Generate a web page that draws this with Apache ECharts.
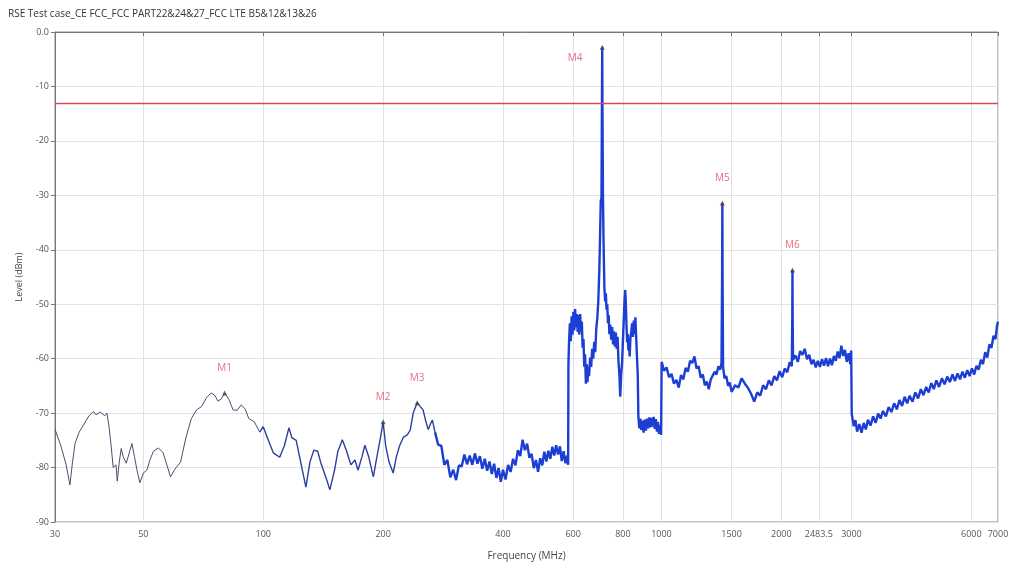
<!DOCTYPE html>
<html><head><meta charset="utf-8">
<script src="https://cdn.jsdelivr.net/npm/echarts@6/dist/echarts.min.js"></script>
<style>html,body{margin:0;padding:0;background:#fff}#c{width:1012px;height:570px}</style>
</head><body><div id="c"></div>
<script>
const titleText = 'RSE Test case_CE FCC_FCC PART22&24&27_FCC LTE B5&12&13&26';
const xTickValues = [30,50,100,200,400,600,800,1000,1500,2000,2483.5,3000,6000,7000];
const limitLevel = -13;

const freqA = [30,31,32,32.7,33.2,33.7,34.5,35.5,36.5,37.5,38,39,40,40.5,41,41.5,42,42.7,43,43.5,44,44.5,45.3,46,46.8,47.5,48.2,49,50,51,52,53,54.5,56,57,58.5,60,62,64,66,68,70,72,74,75.5,77,78.5,80,82,84,86,88,90,92,95,98];
const levelA = [-73,-75.9,-79.5,-83.2,-79,-75.5,-73.5,-72,-70.5,-69.7,-70.3,-69.8,-70.5,-70,-72.5,-76,-80,-79.5,-82.5,-79,-76.5,-78,-79.2,-77.5,-75.6,-78,-80.5,-82.8,-81,-80.5,-78.5,-77,-76.4,-77.2,-79,-81.7,-80.3,-79,-74.4,-71,-69.4,-68.8,-67.2,-66.3,-66.7,-67.8,-67.4,-66.3,-67.5,-69.4,-69.5,-68.5,-69.2,-71,-71.6,-73.5];

const freqB = [98,100,103,106,110,113,116,118,121,125,128,131,134,137,140,144,147,151,154,158,162,166,170,173,177,180,184,189,193,197,200,203,207,212,216,220,225,230,234,238,243.6,248,252,256,259.6,263,266,270];
const levelB = [-73.5,-72.5,-75,-77.3,-78.1,-76,-72.7,-74.5,-75,-80,-83.6,-79,-76.8,-77,-79.5,-82,-84.1,-80.5,-77,-74.9,-77,-79.5,-78.6,-80.5,-78,-75.9,-78,-81.7,-78,-74.5,-71.6,-76,-79,-81,-78,-76,-74.4,-74,-73.1,-70,-68.1,-68.8,-69.4,-71.5,-73,-72,-71.3,-73.5];

const freqC = [270,275,280,285,290,295,300,305,310,315,320,325,330,335,340,345,350,355,360,365,370,375,380,385,390,395,400,406,412,418,424,430,436,442,448,454,460,466,472,478,484,490,496,502,508,514,520,526,532,538,544,550,556,562,568,574,580,583,584,
586,589,592,595,598,601,604,607,610,613,616,619,622,625,628,631,634,637,640,643,646,649,652,655,658,662,666,670,674,678,682,686,690,694,698,701,704,707,709,710,711,713,716,719,722,725,728,731,734,737,740,744,748,752,756,760,764,768,772,776,780,784,788,792,796,800,804,808,811,814,817,820,823,826,829,832,836,840,844,848,852,856,860,864,868,872,875,880,885,890,896,902,908,914,920,926,932,938,944,950,956,962,968,974,980,986,992,998,
1001,1015,1030,1045,1060,1075,1090,1105,1120,1135,1150,1165,1180,1195,1210,1225,1240,1255,1270,1285,1300,1315,1330,1345,1360,1375,1390,1405,1415,1420,1422,1424,1428,1440,1455,1470,1485,1500,
1530,1560,1590,1620,1650,1680,1710,1740,1770,1800,1830,1860,1890,1920,1950,1980,2010,2040,2070,2100,2125,2131,2133,2135,2140,2170,2200,2230,2260,2290,2320,2350,2380,2410,2440,2470,2500,2530,2560,2590,2620,2650,2680,2710,2740,2770,2800,2830,2860,2890,2920,2950,2980,2995,
3005,3040,3070,3100,3140,3180,3220,3260,3300,3350,3400,3450,3500,3550,3600,3660,3720,3780,3840,3900,3960,4020,4080,4140,4200,4270,4340,4410,4480,4550,4620,4690,4760,4830,4900,4980,5060,5140,5220,5300,5380,5460,5540,5620,5700,5780,5860,5940,6020,6100,6180,6260,6340,6420,6500,6580,6660,6740,6820,6900,6960,7000];
const levelC = [-73.5,-75.8,-76.0,-79.5,-78.6,-81.8,-80.4,-82.3,-79.6,-79.8,-77.6,-79.4,-77.8,-79.5,-77.4,-79.3,-77.9,-80.2,-78.4,-80.6,-78.9,-81.2,-79.3,-81.9,-80.1,-82.6,-80.4,-82.2,-79.5,-80.8,-78.4,-79.6,-76.8,-77.9,-74.9,-76.8,-75.6,-78.2,-77.5,-80.1,-78.6,-80.8,-78.3,-79.6,-77.1,-78.9,-76.9,-78.4,-76.2,-77.8,-75.9,-77.6,-76.1,-78.8,-77.0,-79.2,-77.8,-79.5,-61,
-57,-53.5,-56.8,-52.2,-55.6,-51.4,-54.8,-50.9,-54.2,-51.8,-55.1,-52.0,-55.6,-51.8,-55.0,-53.2,-58.0,-56.4,-61.5,-59.2,-64.6,-61.0,-64.3,-61.5,-63.2,-59.8,-61.5,-58.2,-60.0,-56.9,-58.8,-54.5,-52.6,-49.5,-44,-38,-31,-30.5,-12,-2.8,-14,-30,-40,-47,-49.5,-48,-51,-50,-53.5,-52,-55.5,-53.8,-56.5,-54.2,-57.4,-55.0,-57.8,-55.2,-58.2,-56.0,-60.5,-62.8,-67.0,-63,-61,-57,-53,-49,-47.4,-50,-54,-57,-55.5,-58.5,-57,-59.6,-56,-55,-53.5,-56,-53,-55.5,-52.4,-56,-59.7,-63,-70.7,-72.8,-71.0,-73.1,-71.4,-73.6,-71.2,-73.2,-71.0,-72.8,-70.8,-72.6,-70.9,-72.5,-70.7,-72.9,-71.1,-73.4,-71.6,-73.8,-72.2,-74.0,
-60.6,-62.2,-61.6,-63.4,-62.8,-64.6,-63.9,-65.3,-63.0,-63.8,-61.7,-62.4,-60.4,-60.8,-59.6,-61.8,-61.4,-63.5,-62.9,-64.9,-64.2,-65.6,-63.8,-64.1,-62.4,-62.9,-61.4,-62.0,-60.8,-45,-31.4,-45,-61.5,-63.6,-63.2,-65.0,-64.4,-66.1,
-64.9,-65.3,-63.6,-64.6,-65.4,-66.5,-67.9,-66.2,-66.8,-64.9,-65.6,-64.0,-64.9,-63.2,-64.0,-62.3,-63.4,-61.8,-62.5,-60.6,-61.4,-52,-43.7,-52,-60.2,-59.4,-60.6,-58.6,-59.3,-58.2,-60.1,-59.3,-61.0,-60.2,-61.6,-60.4,-61.5,-60.1,-61.3,-59.9,-61.4,-60.0,-61.2,-59.5,-60.4,-58.7,-59.9,-57.6,-59.5,-58.4,-60.6,-59.0,-61.0,-58.5,
-70.2,-72.4,-71.3,-73.4,-72.0,-73.6,-71.8,-73.0,-71.2,-72.3,-70.6,-71.8,-70.1,-71.0,-69.6,-70.6,-68.9,-69.8,-68.2,-69.3,-67.6,-68.7,-67.0,-68.2,-66.8,-67.9,-66.2,-67.3,-65.6,-66.7,-65.2,-66.2,-64.5,-65.6,-64.0,-65.2,-63.6,-64.7,-63.3,-64.3,-62.9,-64.1,-62.7,-63.8,-62.4,-63.5,-62.1,-63.2,-61.8,-62.9,-61.3,-62.0,-60.2,-61.0,-58.8,-59.8,-57.4,-58.0,-55.8,-56.4,-54.0,-53.2];

const markerNames = ['M1','M2','M3','M4','M5','M6'];
const markerFreq = [80,200,243.6,710,1422,2133];
const markerLevel = [-66.3,-71.6,-68.1,-2.8,-31.4,-43.7];

const pair = (f,l)=>f.map((v,i)=>[v,l[i]]);
const fontFam = '"Open Sans", "DejaVu Sans", sans-serif';
const chart = echarts.init(document.getElementById('c'), null, {renderer:'canvas'});
const option = {
  animation:false,
  backgroundColor:'#fff',
  title:{text:titleText,left:3,top:4,textStyle:{fontSize:10,fontWeight:'normal',color:'#333',fontFamily:fontFam}},
  grid:{left:55,right:14,top:32,bottom:48,show:true,borderColor:'#8a8a8a',borderWidth:1,containLabel:false,outerBoundsMode:'none'},
  xAxis:{type:'log',logBase:10,min:30,max:7000,name:'Frequency (MHz)',nameLocation:'middle',nameGap:29,
    nameTextStyle:{fontSize:10,color:'#444',fontFamily:fontFam},
    axisLine:{show:true,lineStyle:{color:'#777'}},
    axisTick:{show:true,customValues:xTickValues,length:4,lineStyle:{color:'#777'}},
    axisLabel:{show:true,customValues:xTickValues,formatter:v=>String(Math.round(v*10)/10),fontSize:9,color:'#555',margin:8,fontFamily:fontFam,hideOverlap:false},
    splitLine:{show:true,lineStyle:{color:'#e2e2e2',width:1}},
    minorTick:{show:false},minorSplitLine:{show:false}},
  yAxis:{type:'value',min:-90,max:0,interval:10,name:'Level (dBm)',nameLocation:'middle',nameGap:31,nameRotate:90,
    nameTextStyle:{fontSize:9,color:'#444',fontFamily:fontFam},
    axisLine:{show:true,lineStyle:{color:'#777'}},
    axisTick:{show:true,length:4,lineStyle:{color:'#777'}},
    axisLabel:{fontSize:9,color:'#555',margin:6,fontFamily:fontFam,formatter:v=>v===0?'0.0':String(v)},
    splitLine:{show:true,lineStyle:{color:'#e2e2e2',width:1}}},
  series:[
    {type:'line',data:pair(freqA,levelA),showSymbol:false,symbol:'none',lineStyle:{color:'#4a4f6e',width:1},z:3,
     markLine:{silent:true,symbol:'none',label:{show:false},lineStyle:{color:'#e0435a',width:1.3,type:'solid'},data:[{yAxis:limitLevel}]}},
    {type:'line',data:pair(freqB,levelB),showSymbol:false,symbol:'none',lineStyle:{color:'#2e3f9e',width:1.4},z:3},
    {type:'line',data:pair(freqC,levelC),showSymbol:false,symbol:'none',lineStyle:{color:'#1d3ed2',width:2.4},z:3},
    {type:'scatter',z:5,symbol:'triangle',symbolSize:5,itemStyle:{color:'#444'},
     data:markerNames.map((n,i)=>({name:n,value:[markerFreq[i],markerLevel[i]],
       label:n==='M4'?{position:'inside',offset:[-27,11]}:{position:'top',distance:17}})),
     label:{show:true,formatter:p=>p.name,color:'#e04a62',fontSize:10,fontFamily:fontFam}}
  ]
};
chart.setOption(option);
</script></body></html>
